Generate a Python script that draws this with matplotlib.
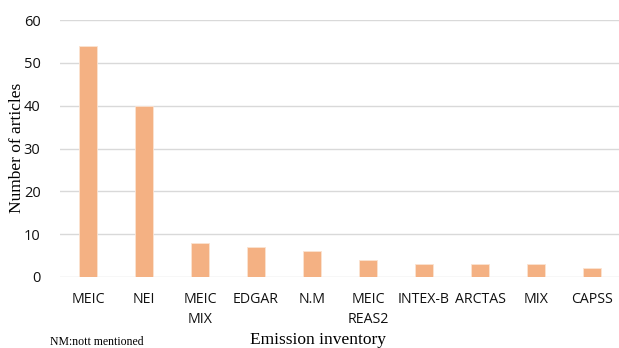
import matplotlib
matplotlib.use("Agg")
import matplotlib.pyplot as plt

categories = ["MEIC", "NEI", "MEIC\nMIX", "EDGAR", "N.M", "MEIC\nREAS2", "INTEX-B", "ARCTAS", "MIX", "CAPSS"]
values = [54, 40, 8, 7, 6, 4, 3, 3, 3, 2]
yticks = [0, 10, 20, 30, 40, 50, 60]

fig = plt.figure(figsize=(6.19, 3.48), dpi=100)
ax = fig.add_axes([60/619, 1-277/348, 560/619, 257/348])

x = list(range(len(categories)))
ax.bar(x, values, width=0.31, color="#F4B183", edgecolor="#FBE3D1", linewidth=0.6, zorder=3)
ax.set_xlim(-0.5, len(categories) - 0.5)
ax.set_ylim(0, 60)
ax.set_yticks(yticks)
ax.set_yticklabels([str(t) for t in yticks], fontfamily="Open Sans", fontsize=10.5, color="#111111")
ax.set_xticks(x)
ax.set_xticklabels(categories, fontfamily="Open Sans", fontsize=10.2, color="#111111", linespacing=1.45, va="top")
ax.tick_params(axis="both", length=0)
ax.tick_params(axis="y", pad=14)
ax.tick_params(axis="x", pad=11)
ax.grid(axis="y", color="#D9D9D9", linewidth=1.0, zorder=0)
for s in ax.spines.values():
    s.set_visible(False)

fig.text(17/619, 1-148/348, "Number of articles", rotation=90, ha="center", va="center",
         fontfamily="Liberation Serif", fontsize=12.5)
fig.text(318/619, 1-340/348, "Emission inventory", ha="center", va="center",
         fontfamily="Liberation Serif", fontsize=12.5)
fig.text(50/619, 1-342/348, "NM:nott mentioned", ha="left", va="center",
         fontfamily="Liberation Serif", fontsize=8.5)

fig.savefig("out.png", dpi=100)
